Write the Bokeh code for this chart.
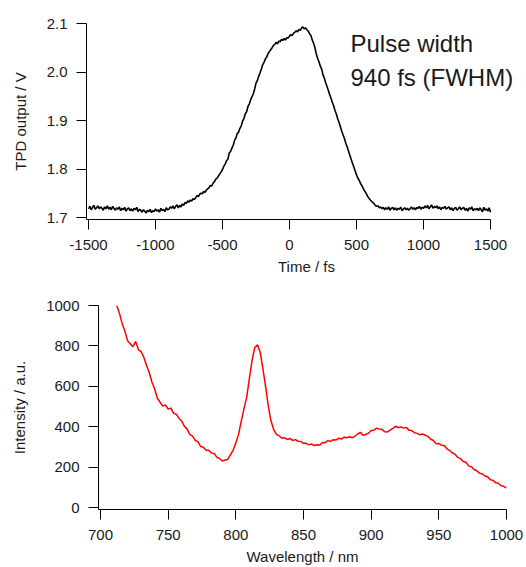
from bokeh.plotting import figure
from bokeh.layouts import column
from bokeh.models import FixedTicker, Label, Range1d, PrintfTickFormatter
from bokeh.embed import file_html
from bokeh.resources import INLINE

# ---------------- data ----------------
time_fs = list(range(-1500, 1501, 10))
tpd_output_v = [
    1.718, 1.723, 1.716, 1.721, 1.725, 1.717, 1.720, 1.724, 1.718, 1.722,
    1.719, 1.715, 1.722, 1.718, 1.724, 1.717, 1.721, 1.716, 1.723, 1.719,
    1.715, 1.720, 1.717, 1.722, 1.714, 1.719, 1.716, 1.721, 1.713, 1.718,
    1.720, 1.714, 1.718, 1.713, 1.719, 1.716, 1.721, 1.712, 1.717, 1.715,
    1.711, 1.716, 1.713, 1.709, 1.715, 1.712, 1.717, 1.710, 1.714, 1.712,
    1.718, 1.713, 1.716, 1.711, 1.719, 1.714, 1.717, 1.712, 1.720, 1.716,
    1.717, 1.722, 1.719, 1.724, 1.718, 1.723, 1.726, 1.720, 1.725, 1.722,
    1.728, 1.725, 1.731, 1.729, 1.734, 1.732, 1.736, 1.734, 1.739, 1.737,
    1.741, 1.745, 1.743, 1.748, 1.750, 1.749, 1.754, 1.752, 1.757, 1.759,
    1.762, 1.766, 1.765, 1.771, 1.774, 1.779, 1.781, 1.786, 1.790, 1.794,
    1.799, 1.806, 1.810, 1.817, 1.820, 1.833, 1.836, 1.843, 1.849, 1.859,
    1.864, 1.873, 1.876, 1.884, 1.889, 1.899, 1.904, 1.914, 1.918, 1.929,
    1.934, 1.943, 1.949, 1.955, 1.965, 1.977, 1.982, 1.991, 1.998, 2.006,
    2.015, 2.020, 2.027, 2.031, 2.038, 2.042, 2.046, 2.050, 2.055, 2.057,
    2.061, 2.058, 2.064, 2.062, 2.067, 2.065, 2.069, 2.066, 2.071, 2.070,
    2.074, 2.077, 2.075, 2.080, 2.082, 2.085, 2.083, 2.088, 2.086, 2.091,
    2.093, 2.089, 2.091, 2.087, 2.084, 2.079, 2.075, 2.066, 2.059, 2.050,
    2.037, 2.028, 2.021, 2.012, 2.006, 1.994, 1.987, 1.978, 1.970, 1.962,
    1.953, 1.946, 1.937, 1.930, 1.920, 1.913, 1.903, 1.896, 1.887, 1.878,
    1.870, 1.863, 1.853, 1.846, 1.837, 1.829, 1.820, 1.812, 1.804, 1.796,
    1.788, 1.781, 1.777, 1.770, 1.766, 1.760, 1.755, 1.751, 1.745, 1.741,
    1.737, 1.734, 1.731, 1.729, 1.725, 1.723, 1.724, 1.720, 1.722, 1.718,
    1.721, 1.716, 1.720, 1.717, 1.722, 1.715, 1.719, 1.721, 1.716, 1.720,
    1.715, 1.719, 1.717, 1.721, 1.714, 1.718, 1.720, 1.716, 1.719, 1.715,
    1.718, 1.722, 1.717, 1.720, 1.716, 1.721, 1.719, 1.723, 1.717, 1.721,
    1.719, 1.724, 1.720, 1.725, 1.718, 1.722, 1.726, 1.719, 1.723, 1.720,
    1.724, 1.718, 1.722, 1.716, 1.721, 1.719, 1.723, 1.717, 1.720, 1.722,
    1.716, 1.720, 1.714, 1.719, 1.721, 1.715, 1.718, 1.722, 1.716, 1.719,
    1.721, 1.715, 1.719, 1.713, 1.720, 1.717, 1.722, 1.714, 1.718, 1.716,
    1.719, 1.714, 1.720, 1.716, 1.712, 1.721, 1.715, 1.718, 1.713, 1.720, 1.711,
]

wavelength_nm = list(range(712, 1001, 2))
intensity_au = [
    1000, 962, 910, 874, 826, 811, 796, 822, 782, 772,
    744, 703, 668, 621, 588, 541, 521, 502, 508, 487,
    492, 466, 462, 441, 428, 402, 388, 362, 353, 332,
    326, 302, 298, 284, 283, 270, 268, 248, 243, 230,
    235, 238, 261, 283, 320, 362, 428, 488, 545, 638,
    728, 792, 806, 768, 688, 598, 502, 428, 386, 362,
    355, 343, 345, 337, 342, 332, 336, 328, 327, 318,
    318, 310, 314, 307, 311, 309, 322, 321, 331, 327,
    336, 334, 343, 339, 348, 345, 350, 345, 353, 364,
    372, 358, 361, 368, 381, 383, 393, 389, 387, 375,
    374, 383, 392, 402, 396, 399, 393, 396, 383, 381,
    370, 367, 360, 364, 358, 352, 338, 332, 316, 317,
    308, 307, 290, 282, 270, 264, 248, 242, 228, 224,
    206, 202, 188, 182, 170, 167, 156, 152, 138, 134,
    123, 120, 108, 105, 96,
]

top_x_ticks = [-1500, -1000, -500, 0, 500, 1000, 1500]
top_y_ticks = [1.7, 1.8, 1.9, 2.0, 2.1]
bottom_x_ticks = [700, 750, 800, 850, 900, 950, 1000]
bottom_y_ticks = [0, 200, 400, 600, 800, 1000]
annotation_lines = ["Pulse width", "940 fs (FWHM)"]

FONT = "Liberation Sans"


def style(p):
    p.grid.visible = False
    p.outline_line_color = None
    p.background_fill_color = "white"
    p.border_fill_color = "white"
    for ax in p.axis:
        ax.axis_line_color = "black"
        ax.axis_line_width = 1
        ax.major_tick_line_color = "black"
        ax.major_tick_out = 10
        ax.major_tick_in = 0
        ax.minor_tick_line_color = None
        ax.major_label_text_font = FONT
        ax.major_label_text_font_size = "15px"
        ax.major_label_text_color = "#1a1a1a"
        ax.axis_label_text_font = FONT
        ax.axis_label_text_font_size = "15px"
        ax.axis_label_text_font_style = "normal"
        ax.axis_label_text_color = "#1a1a1a"
    p.yaxis.major_label_standoff = 9
    p.yaxis.axis_label_standoff = 15
    p.xaxis.major_label_standoff = 10
    p.xaxis.axis_label_standoff = 5


# ---------------- top: autocorrelation ----------------
p1 = figure(width=526, height=280, output_backend="svg", toolbar_location=None,
            x_range=Range1d(-1515, 1768.6), y_range=Range1d(1.6959, 2.1),
            min_border_left=86, min_border_right=0, min_border_top=23,
            min_border_bottom=61)
p1.frame_align = False
p1.line(time_fs, tpd_output_v, line_color="black", line_width=1.6)
p1.xaxis.ticker = FixedTicker(ticks=top_x_ticks)
p1.yaxis.ticker = FixedTicker(ticks=top_y_ticks)
p1.xaxis.formatter = PrintfTickFormatter(format="%d")
p1.yaxis.formatter = PrintfTickFormatter(format="%.1f")
p1.xaxis.bounds = (-1515, 1500)
p1.xaxis.axis_label = "Time / fs"
p1.yaxis.axis_label = "TPD output / V"
style(p1)

p1.add_layout(Label(x=455, y=2.059, text=annotation_lines[0], text_font=FONT,
                    text_font_size="24px", text_color="#1a1a1a",
                    text_baseline="alphabetic"))
p1.add_layout(Label(x=455, y=1.989, text=annotation_lines[1], text_font=FONT,
                    text_font_size="24px", text_color="#1a1a1a",
                    text_baseline="alphabetic"))

# ---------------- bottom: spectrum ----------------
p2 = figure(width=526, height=287, output_backend="svg", toolbar_location=None,
            x_range=Range1d(698.52, 1000), y_range=Range1d(-9.8, 1000),
            min_border_left=98, min_border_right=20, min_border_top=25,
            min_border_bottom=56)
p2.frame_align = False
p2.line(wavelength_nm, intensity_au, line_color="#ff0000", line_width=1.5)
p2.xaxis.ticker = FixedTicker(ticks=bottom_x_ticks)
p2.yaxis.ticker = FixedTicker(ticks=bottom_y_ticks)
p2.xaxis.axis_label = "Wavelength / nm"
p2.yaxis.axis_label = "Intensity / a.u."
style(p2)

layout = column(p1, p2)
open("out.html", "w").write(file_html(layout, INLINE))
